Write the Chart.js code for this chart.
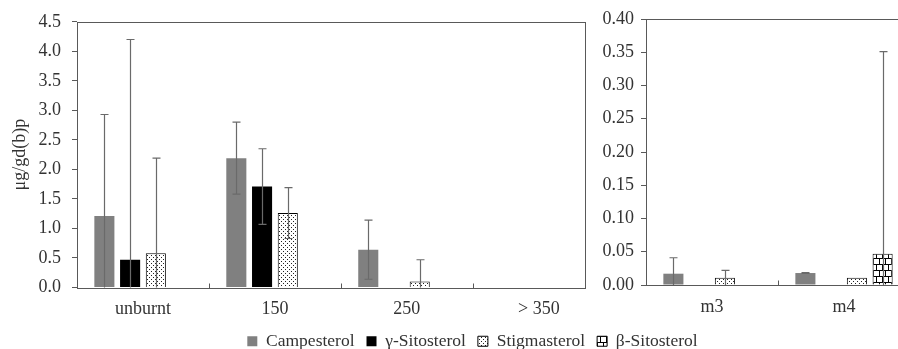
<!DOCTYPE html>
<html>
<head>
<meta charset="utf-8">
<script src="https://cdn.jsdelivr.net/npm/chart.js@4.4.1/dist/chart.umd.min.js"></script>
<style>
  html, body { margin: 0; padding: 0; background: #fff; overflow: hidden; }
  #wrap { position: relative; width: 898px; height: 349px; overflow: hidden; }
  #c1 { position: absolute; left: 0; top: 0; }
  #c2 { position: absolute; left: 588px; top: 0; }
</style>
</head>
<body>
<div id="wrap">
  <canvas id="c1" width="945" height="349"></canvas>
  <canvas id="c2" width="330" height="349"></canvas>
</div>
<script>
// series + categories
const seriesNames = ['Campesterol', 'γ-Sitosterol', 'Stigmasterol', 'β-Sitosterol'];
const tempLabels = ['unburnt', '150', '250', '> 350'];
const sampleLabels = ['m3', 'm4'];

// left panel (burn temperature)
const campesterol = [1.21, 2.19, 0.64, 0];
const gammaSito = [0.47, 1.71, 0, 0];
const stigmasterol = [0.58, 1.26, 0.10, 0];
const betaSito = [0, 0, 0, 0];
const campesterolErr = [1.72, 0.61, 0.50, 0];
const gammaSitoErr = [3.73, 0.64, 0, 0];
const stigmasterolErr = [1.61, 0.43, 0.37, 0];
const betaSitoErr = [0, 0, 0, 0];

// right panel (samples)
const campesterolM = [0.017, 0.018];
const gammaSitoM = [0, 0];
const stigmasterolM = [0.011, 0.011];
const betaSitoM = [0, 0.047];
const campesterolMErr = [0.024, 0.0005];
const gammaSitoMErr = [0, 0];
const stigmasterolMErr = [0.011, 0];
const betaSitoMErr = [0, 0.304];

const leftTicks = [0, 0.5, 1, 1.5, 2, 2.5, 3, 3.5, 4, 4.5];
const rightTicks = [0, 0.05, 0.1, 0.15, 0.2, 0.25, 0.3, 0.35, 0.4];

const textColor = '#333';
const lineColor = '#595959';
Chart.defaults.font.family = '"Liberation Serif", "Times New Roman", serif';
Chart.defaults.font.size = 18;
Chart.defaults.color = textColor;

function dotPattern() {
  const c = document.createElement('canvas');
  c.width = 4; c.height = 4;
  const g = c.getContext('2d');
  g.fillStyle = '#fff'; g.fillRect(0, 0, 4, 4);
  g.fillStyle = '#222';
  g.fillRect(1, 1, 1, 1); g.fillRect(3, 3, 1, 1);
  return g.createPattern(c, 'repeat');
}
function brickPattern() {
  const c = document.createElement('canvas');
  c.width = 6; c.height = 12;
  const g = c.getContext('2d');
  g.fillStyle = '#fff'; g.fillRect(0, 0, 6, 12);
  g.fillStyle = '#000';
  g.fillRect(0, 0, 6, 1); g.fillRect(0, 6, 6, 1);
  g.fillRect(0, 0, 1, 6); g.fillRect(3, 6, 1, 6);
  return g.createPattern(c, 'repeat');
}
const dots = dotPattern();
const bricks = brickPattern();

function pts(arr) { return arr.map((v, i) => ({ x: i, y: v })); }

function makeDatasets(vals, errs) {
  const fills = ['#808080', '#000000', dots, bricks];
  const borders = [0, 0, 1, 1];
  return seriesNames.map((name, k) => ({
    label: name,
    data: pts(vals[k]),
    errors: errs[k],
    backgroundColor: fills[k],
    borderColor: '#000',
    borderWidth: borders[k],
    categoryPercentage: 0.78,
    barPercentage: 0.78
  }));
}

// frame round the plot + small category dividers on the x axis
const frame = {
  id: 'frame',
  afterDatasetsDraw(chart, args, opts) {
    const { ctx, chartArea: a, scales: { x } } = chart;
    const l = Math.round(a.left) + 0.5, r = Math.round(a.right) + 0.5;
    const t = Math.round(a.top) + 0.5, b = Math.round(a.bottom) + 0.5;
    ctx.save();
    ctx.strokeStyle = lineColor;
    ctx.lineWidth = 1;
    ctx.strokeRect(l, t, r - l, b - t);
    ctx.beginPath();
    for (let i = 0; i < opts.groups - 1; i++) {
      const px = Math.round(x.getPixelForValue(i + 0.5)) + 0.5;
      ctx.moveTo(px, b);
      ctx.lineTo(px, b - 5);
    }
    ctx.stroke();
    ctx.restore();
  }
};

const errorBars = {
  id: 'errorBars',
  afterDatasetsDraw(chart) {
    const { ctx, scales: { y } } = chart;
    ctx.save();
    ctx.strokeStyle = '#6a6a6a';
    ctx.lineWidth = 1.2;
    chart.data.datasets.forEach((ds, di) => {
      const meta = chart.getDatasetMeta(di);
      meta.data.forEach((bar, i) => {
        const e = ds.errors[i];
        if (!e) return;
        const v = ds.data[i].y;
        const x = Math.round(bar.x) + 0.5;
        const top = y.getPixelForValue(v + e);
        const low = v - e;
        const bot = y.getPixelForValue(Math.max(low, 0));
        ctx.beginPath();
        ctx.moveTo(x, top); ctx.lineTo(x, bot);
        ctx.moveTo(x - 4, top); ctx.lineTo(x + 4, top);
        if (low > 0) { ctx.moveTo(x - 4, bot); ctx.lineTo(x + 4, bot); }
        ctx.stroke();
      });
    });
    ctx.restore();
  }
};

function xAxis(labels, max, height) {
  return {
    type: 'linear', min: -0.5, max: max, offset: false,
    grid: { display: false, offset: false },
    border: { display: false },
    afterBuildTicks: s => { s.ticks = labels.map((_, i) => ({ value: i })); },
    ticks: { callback: v => labels[v], padding: 3, maxRotation: 0, autoSkip: false },
    afterFit: s => { s.height = height; }
  };
}

function yAxis(min, max, ticks, digits, width, pad) {
  return {
    min: min, max: max,
    afterBuildTicks: s => { s.ticks = ticks.map(v => ({ value: v })); },
    ticks: { callback: v => Number(v).toFixed(digits), padding: pad },
    grid: { drawOnChartArea: false, tickLength: 5, color: lineColor },
    border: { display: false },
    afterFit: s => { s.width = width; }
  };
}

const leftY = yAxis(0, 4.5, leftTicks, 1, 77, 11);
leftY.title = { display: true, text: 'μg/gd(b)p', padding: { top: 9, bottom: 0 } };

new Chart(document.getElementById('c1'), {
  type: 'bar',
  data: {
    datasets: makeDatasets(
      [campesterol, gammaSito, stigmasterol, betaSito],
      [campesterolErr, gammaSitoErr, stigmasterolErr, betaSitoErr])
  },
  options: {
    responsive: false,
    animation: false,
    layout: { padding: { top: 20, bottom: -11 } },
    scales: {
      x: xAxis(tempLabels, 3.35, 33),
      y: leftY,
      pad: {
        type: 'linear', axis: 'y', position: 'right', min: 0, max: 1,
        ticks: { display: false }, grid: { display: false }, border: { display: false },
        afterFit: s => { s.width = 360; }
      }
    },
    plugins: {
      legend: {
        position: 'bottom',
        labels: { boxWidth: 10, boxHeight: 10, padding: 12, color: textColor, font: { size: 17.5 } }
      },
      tooltip: { enabled: false },
      frame: { groups: tempLabels.length }
    }
  },
  plugins: [frame, errorBars]
});

new Chart(document.getElementById('c2'), {
  type: 'bar',
  data: {
    datasets: makeDatasets(
      [campesterolM, gammaSitoM, stigmasterolM, betaSitoM],
      [campesterolMErr, gammaSitoMErr, stigmasterolMErr, betaSitoMErr])
  },
  options: {
    responsive: false,
    animation: false,
    layout: { padding: { top: 19, right: 8 } },
    scales: {
      x: xAxis(sampleLabels, 1.5, 64),
      y: yAxis(0, 0.4, rightTicks, 2, 58, 7)
    },
    plugins: {
      legend: { display: false },
      tooltip: { enabled: false },
      frame: { groups: sampleLabels.length }
    }
  },
  plugins: [frame, errorBars]
});
</script>
</body>
</html>
